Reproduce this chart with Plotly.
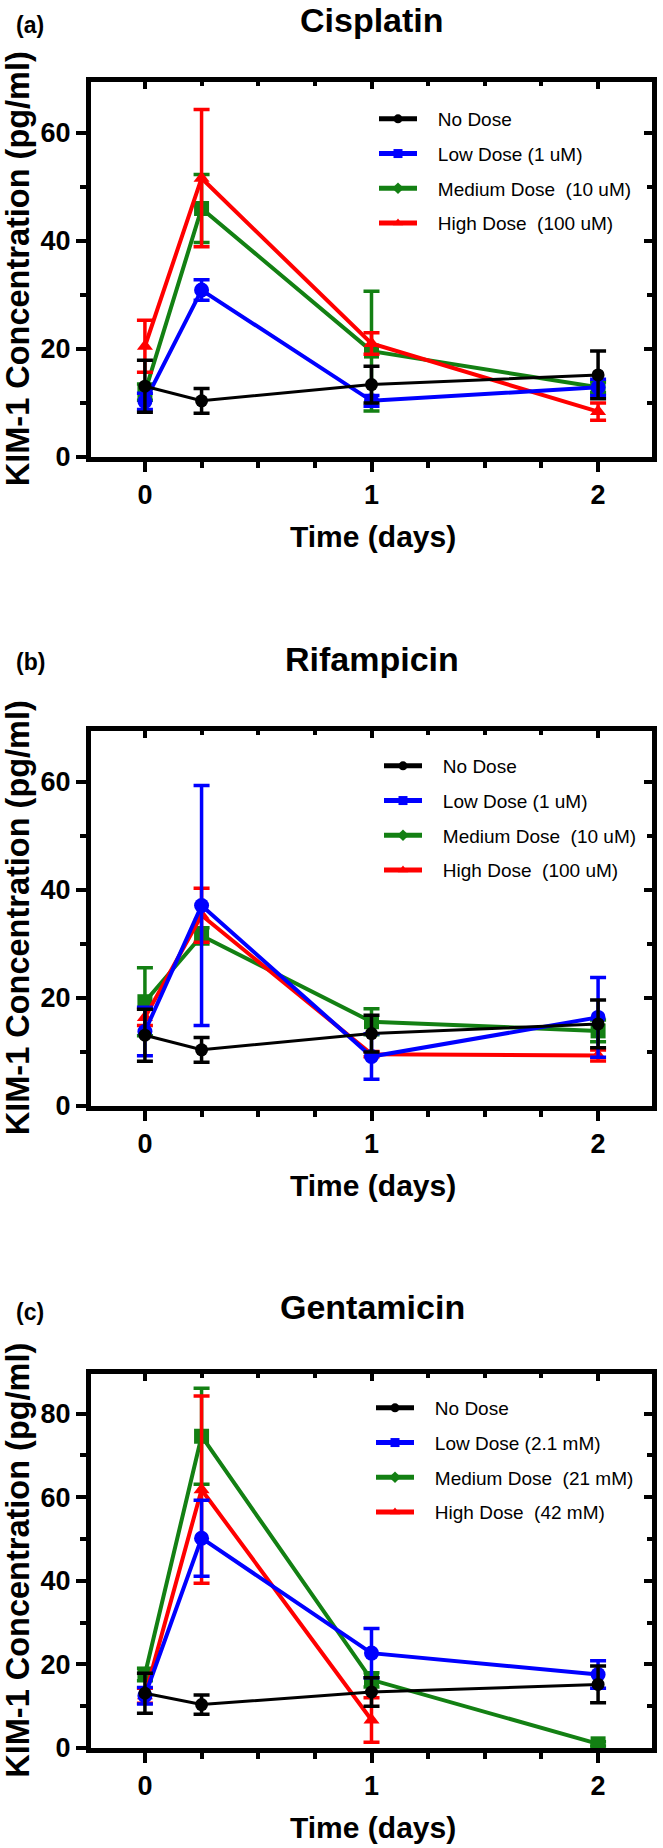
import plotly.graph_objects as go

# ---------------- data ----------------
time_days = [0, 0.25, 1, 2]

# control (same in all panels)
no_dose = [13.1, 10.4, 13.4, 15.2]
no_dose_err = [4.8, 2.3, 3.4, 4.4]

# (a) Cisplatin
cis_low = [10.3, 30.9, 10.4, 12.9]
cis_low_err = [1.5, 1.9, 1.0, 1.5]
cis_med = [12.0, 46.0, 19.6, 12.9]
cis_med_err = [1.5, 6.3, 11.1, 1.0]
cis_high = [20.5, 51.6, 21.0, 8.4]
cis_high_err = [4.8, 12.7, 2.0, 1.6]

# (b) Rifampicin
rif_low = [13.8, 37.1, 9.15, 16.4]
rif_low_err = [4.5, 22.2, 4.2, 7.4]
rif_med = [19.3, 31.5, 15.6, 13.9]
rif_med_err = [6.3, 1.5, 2.4, 2.0]
rif_high = [16.4, 35.3, 9.6, 9.35]
rif_high_err = [1.5, 5.0, 0.5, 1.0]

# (c) Gentamicin
gen_low = [12.5, 50.2, 22.7, 17.6]
gen_low_err = [2.0, 9.1, 5.9, 3.3]
gen_med = [17.6, 74.6, 16.3, 1.0]
gen_med_err = [1.5, 11.5, 1.7, 0.5]
gen_high = [12.5, 61.8, 6.7, None]
gen_high_err = [1.8, 22.4, 5.3, None]

legend_labels_um = ["No Dose", "Low Dose (1 uM)", "Medium Dose  (10 uM)", "High Dose  (100 uM)"]
legend_labels_mm = ["No Dose", "Low Dose (2.1 mM)", "Medium Dose  (21 mM)", "High Dose  (42 mM)"]

panel_titles = ["Cisplatin", "Rifampicin", "Gentamicin"]
panel_letters = ["(a)", "(b)", "(c)"]
y_title = "KIM-1 Concentration (pg/ml)"
x_title = "Time (days)"

# ---------------- layout geometry (pixels) ----------------
W, H = 663, 1848
ML, MR = 91, 11
PW = W - ML - MR

def fx(px):
    return (px - ML) / PW

def fy(py):
    return 1 - py / H

panels = [
    dict(top=81.5, zero=457, ymax=69.5, title_y=20, label_y=25, leg_y=116, leg_x=379,
         series=[(cis_low, cis_low_err), (cis_med, cis_med_err), (cis_high, cis_high_err)],
         labels=legend_labels_um),
    dict(top=730.5, zero=1106, ymax=69.5, title_y=659, label_y=662, leg_y=763, leg_x=384,
         series=[(rif_low, rif_low_err), (rif_med, rif_med_err), (rif_high, rif_high_err)],
         labels=legend_labels_um),
    dict(top=1373.5, zero=1748, ymax=89.6, title_y=1307, label_y=1312, leg_y=1405, leg_x=376,
         series=[(gen_low, gen_low_err), (gen_med, gen_med_err), (gen_high, gen_high_err)],
         labels=legend_labels_mm),
]

BLACK, BLUE, GREEN, RED = "#000000", "#0000FF", "#138013", "#FF0000"
colors = [BLACK, BLUE, GREEN, RED]
plot_symbols = ["circle", "circle", "square", "triangle-up"]
plot_sizes = [13, 15, 15, 14]
legend_symbols = ["circle", "square", "diamond", "triangle-up"]

FONT = "Liberation Sans, Arial, Helvetica, sans-serif"

fig = go.Figure()
annotations = []
layout_axes = {}

for i, p in enumerate(panels):
    k = i + 1
    xk, yk = f"x{k}" if k > 1 else "x", f"y{k}" if k > 1 else "y"
    xo, yo = f"x{k+3}", f"y{k+3}"
    ys = [(no_dose, no_dose_err)] + p["series"]
    # drawing order: green, red, blue, black
    for j in [2, 3, 1, 0]:
        vals, errs = ys[j]
        fig.add_trace(go.Scatter(
            x=time_days, y=vals, mode="lines+markers",
            xaxis=xk, yaxis=yk, showlegend=False, connectgaps=False,
            line=dict(color=colors[j], width=3 if j == 0 else 4),
            marker=dict(symbol=plot_symbols[j], size=plot_sizes[j], color=colors[j]),
            error_y=dict(type="data", array=errs, visible=True, color=colors[j],
                         thickness=3.5, width=8),
            hoverinfo="skip",
        ))
    leg = "legend" if k == 1 else f"legend{k}"
    for j in range(4):
        label = p["labels"][j].replace("  ", " \u00a0")
        fig.add_trace(go.Scatter(
            x=[None], y=[None], mode="lines+markers",
            xaxis=xo, yaxis=yo, legend=leg, name="\u00a0\u00a0\u00a0" + label,
            legendgroup=f"g{k}{j}",
            line=dict(color=colors[j], width=5),
            marker=dict(symbol=legend_symbols[j], size=9, color=colors[j]),
        ))

    dom_y = [fy(p["zero"]), fy(p["top"])]
    base_x = dict(range=[-0.238, 2.238], showgrid=False, zeroline=False,
                  showline=True, linewidth=5, linecolor="black")
    base_y = dict(range=[0, p["ymax"]], domain=dom_y, showgrid=False, zeroline=False,
                  showline=True, linewidth=5, linecolor="black")
    layout_axes["xaxis" if k == 1 else f"xaxis{k}"] = dict(
        base_x, anchor=yk, domain=[0, 1], side="bottom",
        tickmode="linear", tick0=0, dtick=1, ticks="outside", ticklen=10, tickwidth=4,
        tickcolor="black",
        minor=dict(dtick=0.25, tick0=0, ticks="outside", ticklen=6, tickwidth=4, tickcolor="black"),
        tickfont=dict(family=FONT, size=27, color="black", weight="bold"),
    )
    layout_axes["yaxis" if k == 1 else f"yaxis{k}"] = dict(
        base_y, anchor=xk, side="left",
        tickmode="linear", tick0=0, dtick=20, ticks="outside", ticklen=10, tickwidth=4,
        tickcolor="black",
        minor=dict(dtick=10, tick0=0, ticks="outside", ticklen=6, tickwidth=4, tickcolor="black"),
        tickfont=dict(family=FONT, size=27, color="black", weight="bold"),
    )
    layout_axes[f"xaxis{k+3}"] = dict(
        base_x, anchor=yo, overlaying=xk, side="top", showticklabels=False,
        tickmode="linear", tick0=0, dtick=1, ticks="inside", ticklen=7, tickwidth=4,
        tickcolor="black",
        minor=dict(dtick=0.25, tick0=0, ticks="inside", ticklen=4, tickwidth=4, tickcolor="black"),
    )
    layout_axes[f"yaxis{k+3}"] = dict(
        base_y, anchor=xo, overlaying=yk, side="right", showticklabels=False,
        tickmode="linear", tick0=0, dtick=20, ticks="inside", ticklen=8, tickwidth=4,
        tickcolor="black",
        minor=dict(dtick=10, tick0=0, ticks="inside", ticklen=5, tickwidth=4, tickcolor="black"),
    )
    layout_axes[leg] = dict(
        x=fx(p["leg_x"] - 5), y=fy(p["leg_y"] - 16), xanchor="left", yanchor="top",
        bgcolor="rgba(0,0,0,0)", borderwidth=0, itemwidth=38, tracegroupgap=7,
        font=dict(family=FONT, size=19, color="black"), itemclick=False, itemdoubleclick=False,
    )

    center_y = (p["top"] + p["zero"]) / 2
    annotations += [
        dict(text=panel_letters[i], x=fx(30), y=fy(p["label_y"]), xref="paper", yref="paper",
             xanchor="center", yanchor="middle", showarrow=False,
             font=dict(family=FONT, size=23, color="black", weight="bold")),
        dict(text=panel_titles[i], x=fx(372), y=fy(p["title_y"]), xref="paper", yref="paper",
             xanchor="center", yanchor="middle", showarrow=False,
             font=dict(family=FONT, size=34, color="black", weight="bold")),
        dict(text=y_title, x=fx(18), y=fy(center_y), xref="paper", yref="paper",
             xanchor="center", yanchor="middle", showarrow=False, textangle=-90,
             font=dict(family=FONT, size=32.5, color="black", weight="bold")),
        dict(text=x_title, x=fx(373), y=fy(p["zero"] + 79), xref="paper", yref="paper",
             xanchor="center", yanchor="middle", showarrow=False,
             font=dict(family=FONT, size=30, color="black", weight="bold")),
    ]

fig.update_layout(
    width=W, height=H,
    margin=dict(l=ML, r=MR, t=0, b=0, autoexpand=False),
    paper_bgcolor="white", plot_bgcolor="white",
    font=dict(family=FONT, color="black"),
    annotations=annotations,
    **layout_axes,
)

fig.write_html("out.html", config={"displayModeBar": False},
               post_script="document.body.style.margin='0px';")
